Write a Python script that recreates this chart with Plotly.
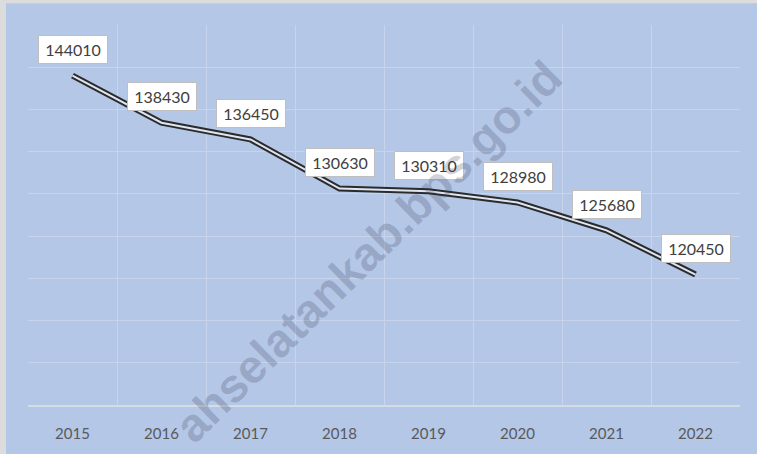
import plotly.graph_objects as go

years = ["2015", "2016", "2017", "2018", "2019", "2020", "2021", "2022"]
values = [144010, 138430, 136450, 130630, 130310, 128980, 125680, 120450]
value_labels = [str(v) for v in values]
watermark_text = "ahselatankab.bps.go.id"

BG = "#B4C7E7"
GRID = "#C7D4EC"

fig = go.Figure()
# double-line effect: dark wide stroke with light core
fig.add_trace(go.Scatter(x=years, y=values, mode="lines",
                         line=dict(color="#2b2b2b", width=6), hoverinfo="skip",
                         showlegend=False))
fig.add_trace(go.Scatter(x=years, y=values, mode="lines",
                         line=dict(color="#dfe6f2", width=2), hoverinfo="skip",
                         showlegend=False))

for i, (v, lab) in enumerate(zip(values, value_labels)):
    fig.add_annotation(x=i, y=v, text=lab, showarrow=False, yshift=26,
                       bgcolor="white", bordercolor="#bfbfbf", borderwidth=1,
                       borderpad=4, width=60, height=19,
                       font=dict(family="Lato", size=16, color="#404040"))

fig.add_annotation(xref="paper", yref="paper", x=0.477, y=0.405,
                   text=watermark_text, showarrow=False, textangle=-44.5,
                   xanchor="center", yanchor="middle",
                   font=dict(family="Liberation Sans", size=47, weight="bold",
                             color="rgba(50,57,79,0.22)"))

# outer frame: light grey strip top/left, blue chart area
fig.add_shape(type="rect", xref="paper", yref="paper", layer="below",
              x0=(6 - 28) / 712, x1=1.1, y0=-0.2, y1=(408 - 3) / 383,
              fillcolor=BG, line=dict(width=0))

fig.update_layout(
    width=757, height=454,
    margin=dict(l=28, r=17, t=25, b=46),
    paper_bgcolor="#dcdcdc",
    plot_bgcolor="rgba(0,0,0,0)",
    showlegend=False,
    xaxis=dict(type="category", tickson="boundaries", showgrid=True,
               gridcolor=GRID, gridwidth=1, showline=True,
               linecolor="#d6dbe4", linewidth=2, ticks="",
               ticklabelstandoff=14,
               tickfont=dict(family="Lato", size=15, color="#595959"),
               range=[-0.5, 7.5]),
    yaxis=dict(range=[105000, 150000], dtick=5000, tick0=105000,
               showgrid=True, gridcolor=GRID, gridwidth=1,
               showticklabels=False, zeroline=False, showline=False),
)

fig.write_html("out.html", config={"displayModeBar": False},
               post_script="document.body.style.margin='0';")
